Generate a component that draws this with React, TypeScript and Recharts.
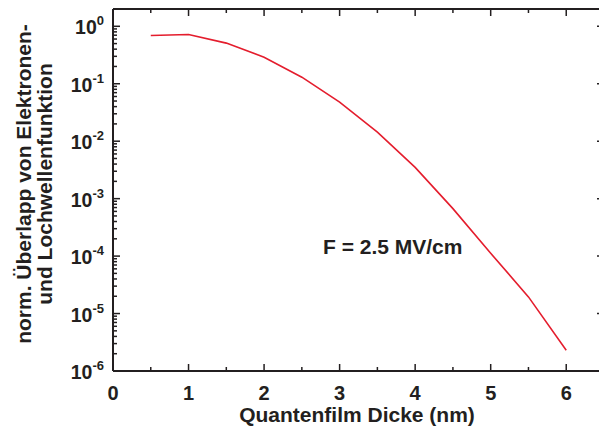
import { Line, LineChart, XAxis, YAxis } from "recharts";

// film thickness (nm) and normalised electron/hole overlap
const thickness = [0.5, 1, 1.5, 2, 2.5, 3, 3.5, 4, 4.5, 5, 5.5, 6];
const overlap = [0.69, 0.72, 0.51, 0.29, 0.13, 0.048, 0.0144, 0.0035, 0.00067, 0.000112, 0.0000195, 0.0000023];

const xTicks = [0, 0.5, 1, 1.5, 2, 2.5, 3, 3.5, 4, 4.5, 5, 5.5, 6, 6.5];
const decades = [-6, -5, -4, -3, -2, -1, 0];
const mantissas = [1, 2, 3, 4, 5, 6, 7, 8, 9];

const xTitle = "Quantenfilm Dicke (nm)";
const yTitle = ["norm. Überlapp von Elektronen-", "und Lochwellenfunktion"];
const note = "F = 2.5 MV/cm";

const data = thickness.map((x, i) => ({ x, y: overlap[i] }));
const yTicks = decades
  .flatMap((d) => mantissas.map((m) => m * Math.pow(10, d)))
  .filter((v) => v <= 2)
  .concat([2]);

const AXIS = "#231f20";
const FONT = '"Liberation Sans", Arial, sans-serif';

const isDecade = (v: number) => {
  const l = Math.log10(v);
  return Math.abs(l - Math.round(l)) < 1e-6;
};
const isWhole = (v: number) => Math.abs(v - Math.round(v)) < 1e-6;

function BottomTick({ x, y, payload }: any) {
  const major = isWhole(payload.value);
  return (
    <g>
      <line x1={x} x2={x} y1={y} y2={y - (major ? 7 : 4)} stroke={AXIS} strokeWidth={1.5} />
      {major && payload.value <= 6 && (
        <text x={x} y={y + 29} textAnchor="middle" fontFamily={FONT} fontWeight="bold" fontSize={20} fill={AXIS}>
          {payload.value}
        </text>
      )}
      {/* axis title and field note hang off the first tick (x=113, y=371) */}
      {payload.value === 0 && (
        <g fontFamily={FONT} fontWeight="bold" fontSize={21} fill={AXIS}>
          <text x={x + 244} y={y + 51} textAnchor="middle">
            {xTitle}
          </text>
          <text x={x + 210} y={y - 117}>
            {note}
          </text>
        </g>
      )}
    </g>
  );
}

function TopTick({ x, y, payload }: any) {
  const major = isWhole(payload.value);
  return <line x1={x} x2={x} y1={y} y2={y + (major ? 7 : 4)} stroke={AXIS} strokeWidth={1.5} />;
}

function LeftTick({ x, y, payload }: any) {
  const v = payload.value;
  const major = isDecade(v);
  const first = Math.abs(v - 1e-6) < 1e-12;
  // first tick sits at (113, 371); titles are placed relative to it
  const ty = y - 187;
  return (
    <g>
      <line x1={x} x2={x + (major ? 7 : 4)} y1={y} y2={y} stroke={AXIS} strokeWidth={1.5} />
      {major && (
        <text x={x - 9} y={y + 8} textAnchor="end" fontFamily={FONT} fontWeight="bold" fontSize={19.5} fill={AXIS}>
          10
          <tspan dy={-9} fontSize={13}>
            {Math.round(Math.log10(v))}
          </tspan>
        </text>
      )}
      {first && (
        <g fontFamily={FONT} fontWeight="bold" fontSize={21} fill={AXIS}>
          <text x={x - 82.5} y={ty} textAnchor="middle" transform={`rotate(-90 ${x - 82.5} ${ty})`}>
            {yTitle[0]}
          </text>
          <text x={x - 61} y={ty} textAnchor="middle" transform={`rotate(-90 ${x - 61} ${ty})`}>
            {yTitle[1]}
          </text>
        </g>
      )}
    </g>
  );
}

function RightTick({ x, y, payload }: any) {
  const major = isDecade(payload.value);
  return <line x1={x} x2={x - (major ? 7 : 4)} y1={y} y2={y} stroke={AXIS} strokeWidth={1.5} />;
}

const axisLine = { stroke: AXIS, strokeWidth: 2 };

export default function App() {
  return (
    <div style={{ position: "absolute", left: 0, top: 0, width: 599, height: 432, overflow: "hidden", background: "#fff" }}>
      <LineChart width={620} height={432} data={data} margin={{ top: 8, right: 15, left: 0, bottom: 0 }}>
        <XAxis
          xAxisId="b"
          dataKey="x"
          type="number"
          domain={[0, 6.5]}
          ticks={xTicks}
          interval={0}
          height={61}
          tickSize={0}
          tickMargin={0}
          tickLine={false}
          axisLine={axisLine}
          tick={<BottomTick />}
          allowDataOverflow
        />
        <XAxis
          xAxisId="t"
          dataKey="x"
          type="number"
          orientation="top"
          domain={[0, 6.5]}
          ticks={xTicks}
          interval={0}
          height={1}
          tickSize={0}
          tickMargin={0}
          tickLine={false}
          axisLine={axisLine}
          tick={<TopTick />}
          allowDataOverflow
        />
        <YAxis
          yAxisId="l"
          type="number"
          scale="log"
          domain={[1e-6, 2]}
          ticks={yTicks}
          interval={0}
          width={113}
          tickSize={0}
          tickMargin={0}
          tickLine={false}
          axisLine={axisLine}
          tick={<LeftTick />}
          allowDataOverflow
        />
        <YAxis
          yAxisId="r"
          orientation="right"
          type="number"
          scale="log"
          domain={[1e-6, 2]}
          ticks={yTicks}
          interval={0}
          width={1}
          tickSize={0}
          tickMargin={0}
          tickLine={false}
          axisLine={axisLine}
          tick={<RightTick />}
          allowDataOverflow
        />
        <Line
          xAxisId="b"
          yAxisId="l"
          dataKey="y"
          stroke="#e41d2d"
          strokeWidth={1.6}
          dot={false}
          isAnimationActive={false}
        />
      </LineChart>
    </div>
  );
}
